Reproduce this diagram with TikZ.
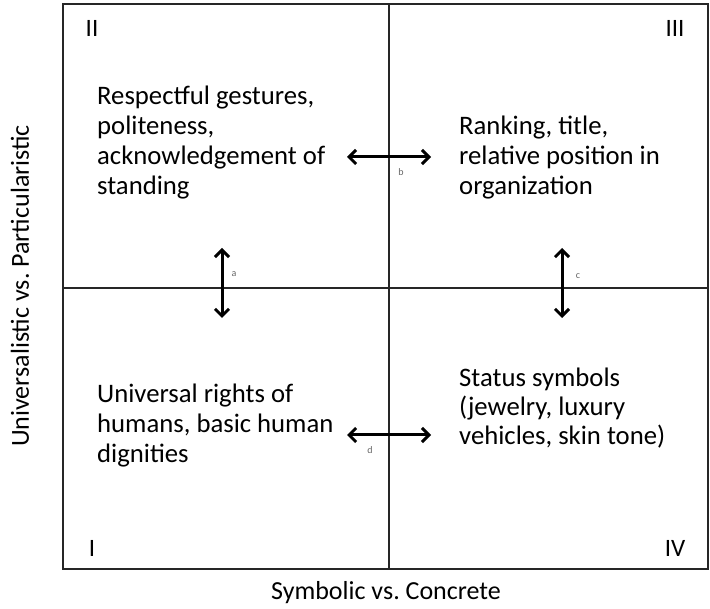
\documentclass[tikz,border=0pt]{standalone}
\usepackage{fontspec}
\setmainfont{Carlito}
\frenchspacing
\usetikzlibrary{arrows.meta, positioning}
\tikzset{
    quad_text/.style = {align=left, anchor=base west, inner sep=0pt,
        font=\fontsize{26.7}{30}\selectfont},
    numeral/.style = {inner sep=0pt, font=\fontsize{25}{29}\selectfont},
    tag/.style = {inner sep=0pt, font=\fontsize{10}{12}\selectfont, text=black!60},
    axis_label/.style = {inner sep=0pt, font=\fontsize{26}{30}\selectfont},
    grid_line/.style = {line width=2.4pt, draw=black!85},
    swap/.style = {<->, >={Straight Barb[length=7pt,width=14pt]}, line width=3pt},
}

\begin{document}
\begin{tikzpicture}[x=1pt, y=-1pt]
            \useasboundingbox (0,0) rectangle (710,609);
            % frame and axes
            \draw[grid_line] (63,4) rectangle (708,569);
            \draw[grid_line] (389,4) -- (389,569);
            \draw[grid_line] (63,288) -- (708,288);
            % quadrant numbers
            \node (n2) [numeral] at (92,28) {II};
            \node (n3) [numeral] at (675,28) {III};
            \node (n1) [numeral] at (92,548) {I};
            \node (n4) [numeral] at (675,548) {IV};
            % quadrant contents (anchored on the last baseline)
            \node (q2) [quad_text] at (97,195) {Respectful gestures,\\politeness,\\acknowledgement of\\standing};
            \node (q3) [quad_text] at (459,195) {Ranking, title,\\relative position in\\organization};
            \node (q1) [quad_text] at (97,463) {Universal rights of\\humans, basic human\\dignities};
            \node (q4) [quad_text, font=\fontsize{26.7}{29}\selectfont] at (459,445) {Status symbols\\(jewelry, luxury\\vehicles, skin tone)};
            % exchange arrows
            \coordinate (bl) at (347,157);
            \coordinate (br) at (431,157);
            \coordinate (at) at (222,248);
            \coordinate (ab) at (222,318);
            \coordinate (ct) at (562,248);
            \coordinate (cb) at (562,318);
            \coordinate (dl) at (347,435);
            \coordinate (dr) at (431,435);
            \draw[swap] (bl) -- (br);
            \draw[swap] (at) -- (ab);
            \draw[swap] (ct) -- (cb);
            \draw[swap] (dl) -- (dr);
            \node (tb) [tag] at (401,172) {b};
            \node (ta) [tag] at (234,274) {a};
            \node (tc) [tag] at (578,276) {c};
            \node (td) [tag] at (370,450) {d};
            % axis titles
            \node (xlab) [axis_label] at (386,593) {Symbolic vs. Concrete};
            \node (ylab) [axis_label, rotate=90] at (20,286) {Universalistic vs. Particularistic};
\end{tikzpicture}
\end{document}
